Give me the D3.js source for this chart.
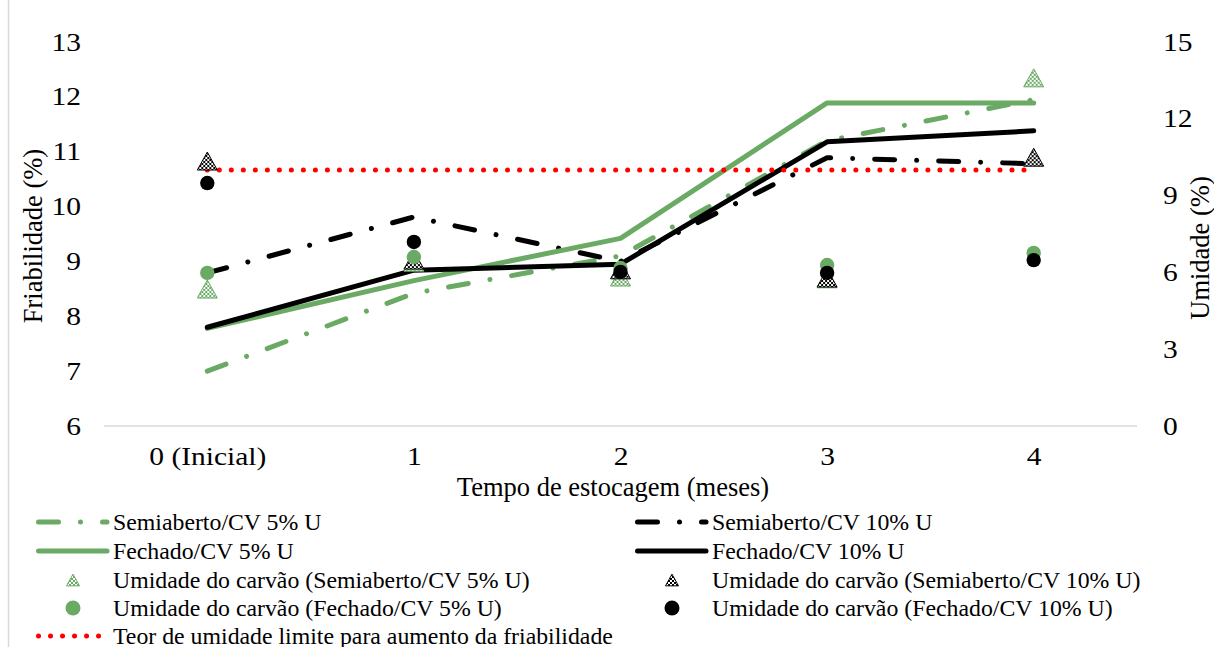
<!DOCTYPE html>
<html><head><meta charset="utf-8">
<script src="https://cdn.jsdelivr.net/npm/d3@7"></script>
<style>body{margin:0;background:#fff}svg{display:block}text{font-family:"Liberation Serif","Times New Roman",serif;fill:#000}</style>
</head><body><svg id="c" width="1214" height="647"></svg>
<script>
const categories = ["0 (Inicial)", "1", "2", "3", "4"];
const semi5 = [7.0, 8.42, 9.1, 11.2, 11.95];
const semi10 = [8.79, 9.81, 9.0, 10.89, 10.78];
const fech5 = [7.78, 8.65, 9.42, 11.89, 11.89];
const fech10 = [7.8, 8.84, 8.95, 11.18, 11.38];
const umSemi5 = [5.35, 6.4, 5.82, 5.75, 13.6];
const umSemi10 = [10.35, 6.48, 6.1, 5.78, 10.5];
const umFech5 = [5.98, 6.6, 6.17, 6.29, 6.76];
const umFech10 = [9.49, 7.19, 6.02, 5.98, 6.48];
const limite = [10, 10, 10, 10, 10];
const leftTicks = [6, 7, 8, 9, 10, 11, 12, 13];
const rightTicks = [0, 3, 6, 9, 12, 15];

const GREEN = "#6aaa64", BLACK = "#000", RED = "#ff0000";
const FONT = "'Liberation Serif','Times New Roman',serif";
const svg = d3.select("#c");
const defs = svg.append("defs");
function checker(id, col){
  const p = defs.append("pattern").attr("id", id).attr("width", 4).attr("height", 4).attr("patternUnits", "userSpaceOnUse");
  p.append("rect").attr("width", 4).attr("height", 4).attr("fill", "#fff");
  p.append("rect").attr("width", 2).attr("height", 2).attr("fill", col);
  p.append("rect").attr("x", 2).attr("y", 2).attr("width", 2).attr("height", 2).attr("fill", col);
}
checker("chkG", GREEN); checker("chkB", BLACK);

svg.append("line").attr("x1", 8.5).attr("x2", 8.5).attr("y1", 0).attr("y2", 647).attr("stroke", "#d9d9d9").attr("stroke-width", 1.5);

const L = 104, R = 1137, T = 42, B = 426;
const x = d3.scalePoint().domain(categories).range([L, R]).padding(0.5);
const yL = d3.scaleLinear().domain([6, 13]).range([B, T]);
const yR = d3.scaleLinear().domain([0, 15]).range([B, T]);

svg.append("line").attr("x1", L).attr("x2", R).attr("y1", B).attr("y2", B).attr("stroke", "#d9d9d9").attr("stroke-width", 1.5);

const TFS = 25, SX = 1.18;
function styleTicks(ax){
  ax.select(".domain").remove();
  ax.attr("font-family", null).attr("font-size", null);
  ax.selectAll("text").style("font-family", FONT).style("font-size", TFS + "px").style("fill", "#000");
}
const axL = svg.append("g").attr("transform", `translate(${L},0)`)
  .call(d3.axisLeft(yL).tickValues(leftTicks).tickFormat(d3.format("d")).tickSize(0));
styleTicks(axL);
axL.selectAll("text").attr("x", -23 / SX).attr("transform", `scale(${SX},1)`);
const axR = svg.append("g").attr("transform", `translate(${R},0)`)
  .call(d3.axisRight(yR).tickValues(rightTicks).tickFormat(d3.format("d")).tickSize(0));
styleTicks(axR);
axR.selectAll("text").attr("x", 26 / SX).attr("transform", `scale(${SX},1)`);
const axB = svg.append("g").attr("transform", `translate(0,${B})`)
  .call(d3.axisBottom(x).tickSize(0).tickPadding(21));
styleTicks(axB);
axB.selectAll("text").attr("transform", `scale(${SX},1)`);
axB.selectAll(".tick").each(function(){
  const t = d3.select(this), tr = t.attr("transform");
  const m = /translate\(([-\d.]+)/.exec(tr);
  t.attr("transform", `translate(${m[1]},0)`);
});

const AFS = 26.5;
svg.append("text").attr("x", 613).attr("y", 496).attr("text-anchor", "middle").style("font-family", FONT).style("font-size", AFS + "px").text("Tempo de estocagem (meses)");
svg.append("text").attr("transform", "translate(42,236) rotate(-90)").attr("text-anchor", "middle").style("font-family", FONT).style("font-size", AFS + "px").text("Friabilidade (%)");
svg.append("text").attr("transform", "translate(1209,248) rotate(-90)").attr("text-anchor", "middle").style("font-family", FONT).style("font-size", AFS + "px").text("Umidade (%)");

const DASHDOT = "20 22 0.01 22";
function drawLine(vals, scale, col, dash, w){
  const g = d3.line().x((d, i) => x(categories[i])).y(d => scale(d));
  svg.append("path").attr("d", g(vals)).attr("fill", "none").attr("stroke", col).attr("stroke-width", w)
    .attr("stroke-linecap", "round").attr("stroke-linejoin", "round").attr("stroke-dasharray", dash || null);
}
drawLine(semi5, yL, GREEN, DASHDOT, 5);
drawLine(semi10, yL, BLACK, DASHDOT, 5);
drawLine(fech5, yL, GREEN, null, 5);
drawLine(fech10, yL, BLACK, null, 5);
drawLine(limite, yR, RED, "0.01 12", 5);

const tri = (s) => `M0,${-0.9*s} L${s},${0.9*s} L${-s},${0.9*s} Z`;
function triangles(vals, col, fill){
  svg.append("g").selectAll("path").data(vals).join("path")
    .attr("transform", (d, i) => `translate(${x(categories[i])},${yR(d)})`)
    .attr("d", tri(10)).attr("fill", `url(#${fill})`).attr("stroke", col).attr("stroke-width", 1);
}
function circles(vals, col){
  svg.append("g").selectAll("circle").data(vals).join("circle")
    .attr("cx", (d, i) => x(categories[i])).attr("cy", d => yR(d)).attr("r", 7.2).attr("fill", col);
}
triangles(umSemi5, GREEN, "chkG");
triangles(umSemi10, BLACK, "chkB");
circles(umFech5, GREEN);
circles(umFech10, BLACK);

// legend
const LFS = 23.8;
const legend = [
  {t: "Semiaberto/CV 5% U", type: "line", col: GREEN, dash: DASHDOT, c: 0, r: 0},
  {t: "Semiaberto/CV 10% U", type: "line", col: BLACK, dash: DASHDOT, c: 1, r: 0},
  {t: "Fechado/CV 5% U", type: "line", col: GREEN, dash: null, c: 0, r: 1},
  {t: "Fechado/CV 10% U", type: "line", col: BLACK, dash: null, c: 1, r: 1},
  {t: "Umidade do carvão (Semiaberto/CV 5% U)", type: "tri", col: GREEN, fill: "chkG", c: 0, r: 2},
  {t: "Umidade do carvão (Semiaberto/CV 10% U)", type: "tri", col: BLACK, fill: "chkB", c: 1, r: 2},
  {t: "Umidade do carvão (Fechado/CV 5% U)", type: "circ", col: GREEN, c: 0, r: 3},
  {t: "Umidade do carvão (Fechado/CV 10% U)", type: "circ", col: BLACK, c: 1, r: 3},
  {t: "Teor de umidade limite para aumento da friabilidade", type: "line", col: RED, dash: "0.01 12", c: 0, r: 4}
];
const colX = [36, 635], rowY = [522, 551, 580, 608, 636];
legend.forEach(it => {
  const x0 = colX[it.c], yy = rowY[it.r];
  const g = svg.append("g");
  if (it.type === "line") {
    g.append("line").attr("x1", x0 + 2.5).attr("x2", x0 + 71).attr("y1", yy).attr("y2", yy).attr("stroke", it.col)
      .attr("stroke-width", 5).attr("stroke-linecap", "round").attr("stroke-dasharray", it.dash);
  } else if (it.type === "tri") {
    g.append("path").attr("transform", `translate(${x0 + 37},${yy})`).attr("d", tri(6.5)).attr("fill", `url(#${it.fill})`).attr("stroke", it.col).attr("stroke-width", 1);
  } else {
    g.append("circle").attr("cx", x0 + 37).attr("cy", yy).attr("r", 7.5).attr("fill", it.col);
  }
  g.append("text").attr("x", x0 + 77).attr("y", yy).attr("dy", "0.35em").style("font-family", FONT).style("font-size", LFS + "px").text(it.t);
});
</script></body></html>
